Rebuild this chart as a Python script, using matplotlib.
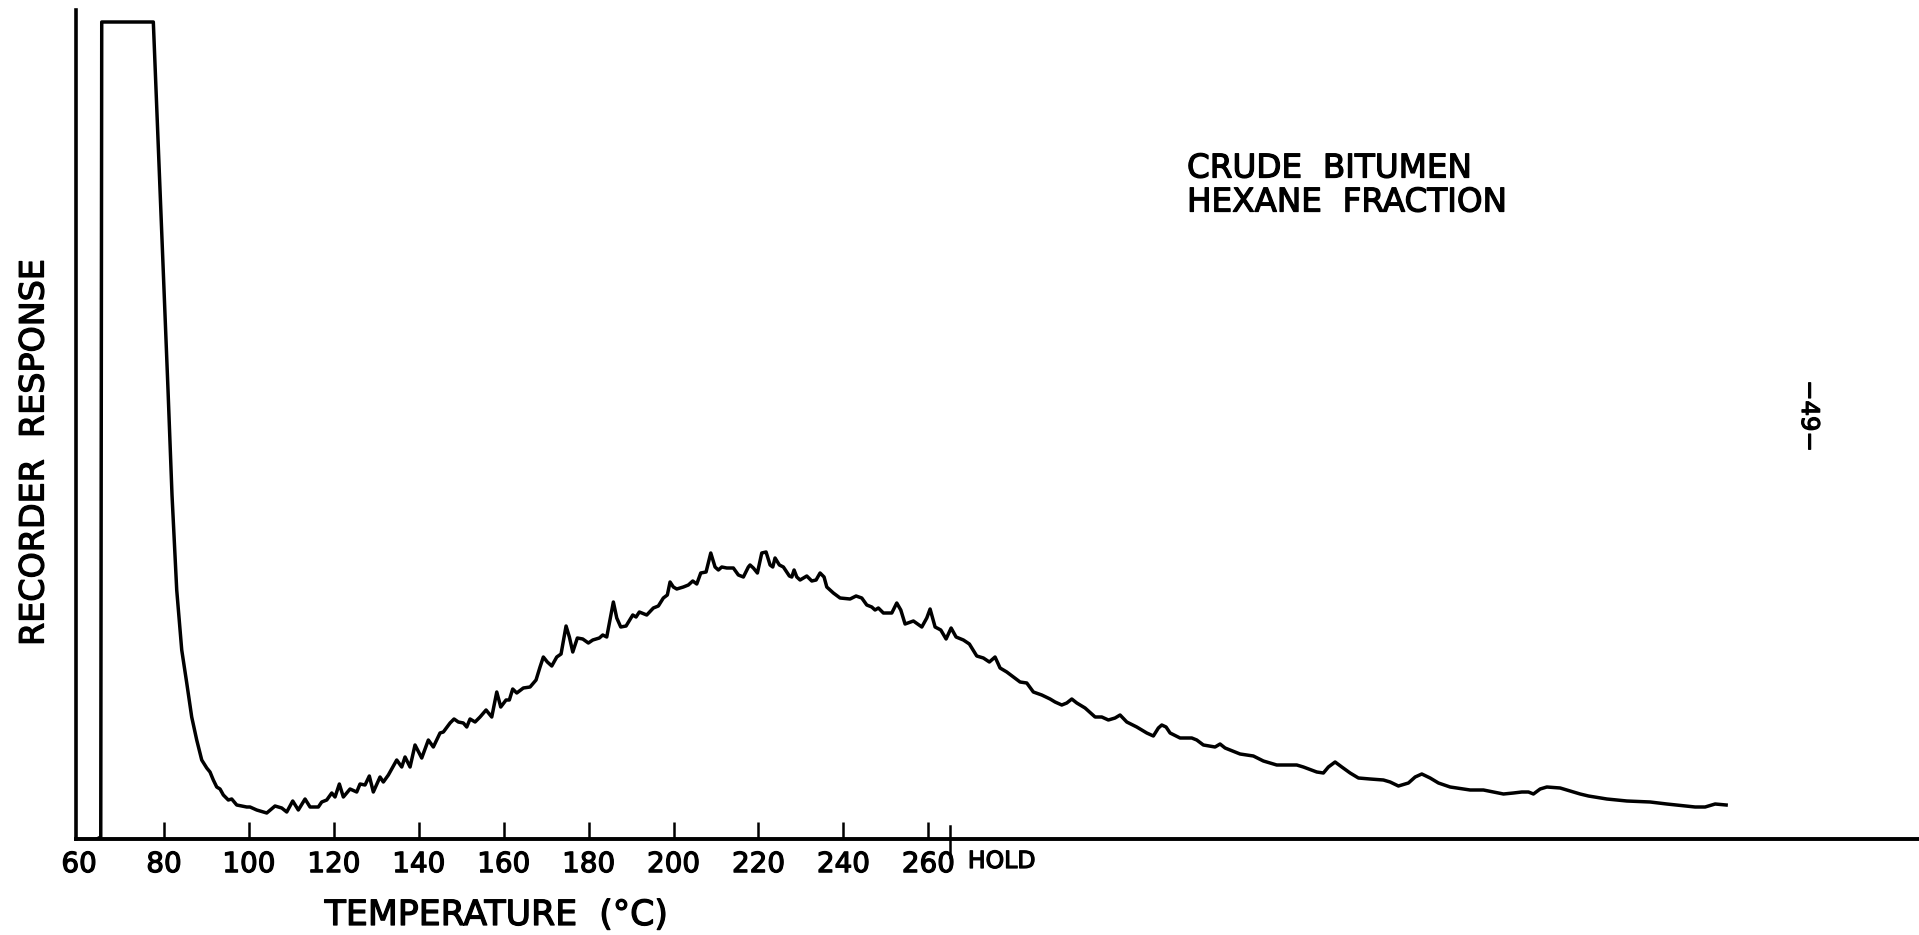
import matplotlib
matplotlib.use("Agg")
import matplotlib.pyplot as plt
import matplotlib.patheffects as pe

# chromatogram trace: temperature scale (deg C), recorder response (arb.)
temp = [64.2, 65.1, 65.33, 77.48, 78.59, 79.76, 80.94, 81.88, 82.99, 84.17, 85.35, 86.52, 87.70,
        88.88, 90.06, 90.83, 91.61, 92.41, 93.19, 93.97, 95.14, 95.94, 97.12, 99.48, 100.25,
        101.83, 104.19, 106.14, 107.72, 108.90, 110.31, 111.63, 113.21, 114.39, 116.34, 117.14,
        118.32, 119.50, 120.27, 121.29, 122.23, 123.81, 125.38, 126.16, 127.34, 128.35, 129.29,
        130.87, 131.65, 132.83, 134.80, 135.98, 136.76, 137.94, 139.11, 140.69, 142.25, 143.42,
        145.00, 145.78, 147.36, 148.30, 149.31, 150.49, 151.29, 152.07, 153.25, 154.42, 155.84,
        157.18, 158.36, 159.30, 160.55, 161.32, 162.12, 163.07, 164.62, 166.20, 167.61, 168.55,
        169.33, 170.27, 171.31, 172.49, 173.50, 174.68, 175.46, 176.26, 177.34, 178.61, 179.93,
        180.97, 182.52, 183.32, 184.26, 185.82, 186.62, 187.56, 188.81, 190.39, 191.16, 191.94,
        193.68, 195.24, 196.41, 197.59, 198.53, 199.17, 199.95, 200.75, 202.30, 203.48, 204.52,
        205.46, 206.40, 207.65, 208.76, 209.77, 210.55, 211.35, 212.53, 214.08, 215.26, 216.44,
        217.61, 218.01, 218.79, 219.74, 220.77, 221.78, 222.73, 223.36, 223.90, 224.92, 225.86,
        227.27, 227.84, 228.38, 229.02, 229.79, 231.37, 232.55, 233.56, 234.50, 235.44, 236.08,
        237.63, 239.21, 241.56, 242.98, 244.32, 245.50, 246.67, 247.45, 248.23, 249.41, 251.39,
        252.56, 253.51, 254.52, 256.48, 258.46, 259.63, 260.41, 261.59, 262.93, 264.18, 265.36,
        266.53, 268.25, 269.66, 271.40, 272.96, 274.37, 275.71, 276.89, 278.47, 280.02, 281.60,
        283.18, 284.73, 286.71, 288.67, 289.84, 291.42, 292.60, 293.78, 294.96, 296.91, 299.27,
        300.84, 302.40, 303.97, 305.15, 306.73, 309.08, 311.44, 312.99, 314.17, 314.97, 315.98,
        316.93, 319.28, 322.04, 323.21, 324.77, 327.52, 328.70, 329.88, 333.41, 336.54, 338.90,
        342.05, 346.76, 348.32, 351.47, 353.03, 354.21, 355.79, 357.37, 359.33, 361.28, 364.03,
        367.17, 368.75, 370.70, 373.06, 374.64, 376.21, 378.17, 380.13, 382.88, 387.59, 390.72,
        393.08, 395.44, 397.79, 399.77, 401.33, 402.50, 404.08, 405.66, 408.79, 411.14, 413.50,
        415.46, 419.79, 424.50, 429.99, 433.91, 440.58, 442.93, 445.29, 447.88]
resp = [0, 2, 817, 817, 699, 574, 449, 344, 249, 189, 156, 122, 99,
        79, 71, 67, 59, 52, 50, 44, 39, 40, 34, 32, 32,
        29, 26, 33, 31, 27, 38, 29, 40, 32, 32, 37,
        39, 46, 42, 55, 42, 50, 47, 55, 54, 63, 47,
        62, 57, 64, 79, 72, 82, 72, 94, 81, 99, 92,
        106, 107, 116, 120, 117, 116, 112, 120, 117, 122, 129,
        122, 147, 132, 139, 139, 150, 146, 151, 152, 159, 172,
        182, 177, 173, 182, 185, 213, 202, 187, 201, 200, 196,
        199, 201, 204, 202, 237, 221, 212, 213, 224, 222, 227,
        224, 231, 233, 241, 244, 257, 252, 250, 252, 254, 258,
        255, 266, 267, 286, 272, 269, 272, 271, 271, 264, 262,
        272, 274, 271, 266, 286, 287, 274, 272, 281, 274, 272,
        263, 262, 269, 262, 259, 263, 258, 259, 266, 262, 252,
        246, 241, 240, 243, 241, 234, 232, 229, 231, 226, 226,
        236, 229, 215, 218, 212, 221, 230, 212, 209, 200, 211,
        202, 199, 195, 183, 181, 177, 182, 171, 167, 162, 157,
        156, 147, 144, 140, 137, 134, 136, 140, 136, 131, 122,
        122, 119, 121, 124, 117, 112, 106, 103, 111, 114, 112,
        106, 101, 101, 99, 94, 92, 95, 91, 85, 83, 78,
        74, 74, 72, 67, 66, 72, 77, 72, 66, 61, 60,
        59, 57, 53, 56, 62, 65, 61, 56, 52, 49, 49,
        47, 45, 46, 47, 47, 45, 50, 52, 51, 48, 45,
        43, 40, 38, 37, 35, 32, 32, 35, 34]

tick_temps = [60, 80, 100, 120, 140, 160, 180, 200, 220, 240, 260]
hold_temp = 265

plt.rcParams['font.family'] = ['DejaVu Sans']
ink = [pe.withStroke(linewidth=0.9, foreground='black')]

fig = plt.figure(figsize=(19.19, 9.35), dpi=100)
ax = fig.add_axes([76 / 1919, 96 / 935, 1843 / 1919, 829 / 935])

ax.plot(temp, resp, color='black', lw=2.5, solid_joinstyle='round')
ax.plot([temp[0] - 6, temp[0]], [0, 0], color='black', lw=2.5)

ax.set_xlim(59.27, 493.3)
ax.set_ylim(0, 829)
for side in ['top', 'right']:
    ax.spines[side].set_visible(False)
ax.spines['left'].set_linewidth(2.6)
ax.spines['bottom'].set_linewidth(2.8)
ax.set_yticks([])
ax.set_xticks(tick_temps)
ax.set_xticklabels([str(t) for t in tick_temps], fontsize=20)
for lab in ax.get_xticklabels():
    lab.set_path_effects(ink)
ax.tick_params(axis='x', direction='in', length=12, width=1.8, pad=8)
ax.xaxis.get_major_ticks()[0].tick1line.set_visible(False)

# hold marker crossing the axis
ax.plot([hold_temp, hold_temp], [13, -18], color='black', lw=1.8, clip_on=False)
ax.text(hold_temp + 4.3, -22, 'HOLD', fontsize=17, ha='left', va='center', path_effects=ink)

fig.text(496 / 1919, 1 - 915 / 935, 'TEMPERATURE  (°C)', fontsize=25, ha='center',
         va='center', path_effects=ink)
fig.text(34 / 1919, 1 - 452 / 935, 'RECORDER  RESPONSE', fontsize=24, rotation=90,
         ha='center', va='center', path_effects=ink)
fig.text(1187 / 1919, 1 - 168 / 935, 'CRUDE  BITUMEN', fontsize=23.5, ha='left',
         va='center', path_effects=ink)
fig.text(1187 / 1919, 1 - 202 / 935, 'HEXANE  FRACTION', fontsize=23.5, ha='left',
         va='center', path_effects=ink)
fig.text(1809 / 1919, 1 - 416 / 935, '\u221249\u2212', fontsize=17.5, rotation=-90, ha='center',
         va='center', path_effects=ink)

fig.savefig('out.png', dpi=100)
